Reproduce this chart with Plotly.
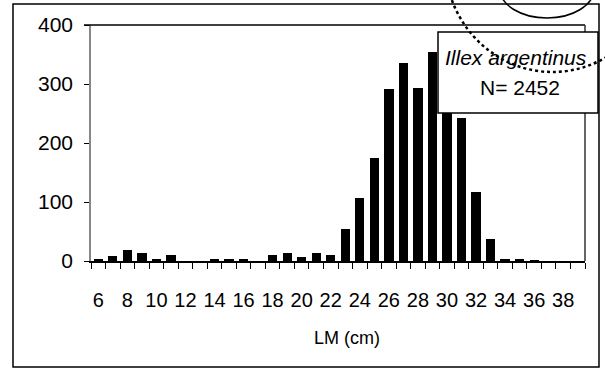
import plotly.graph_objects as go

# Length-frequency of Illex argentinus, mantle length classes (cm)
lm_cm = list(range(6, 40))
counts = [4, 9, 19, 14, 4, 10, 0, 0, 3, 4, 4, 0, 11, 13, 7, 13, 10, 55,
          106, 174, 291, 335, 294, 355, 312, 242, 117, 37, 4, 4, 1, 0, 0, 0]
x_tick_labels = list(range(6, 39, 2))
y_tick_values = [0, 100, 200, 300, 400]
species = "Illex argentinus"
n_total = 2452

W, H = 605, 369
L, R, T, B = 91, 20, 25, 108
PW, PH = W - L - R, H - T - B


def px(x):
    return (x - L) / PW


def py(y):
    return (H - B - y) / PH


FONT = "Liberation Sans, Arial, sans-serif"

fig = go.Figure(
    go.Bar(x=lm_cm, y=counts, width=0.64, marker=dict(color="black", line=dict(width=0)))
)

fig.update_layout(
    width=W, height=H,
    margin=dict(l=L, r=R, t=T, b=B),
    paper_bgcolor="white", plot_bgcolor="white",
    showlegend=False,
    font=dict(family=FONT, color="black"),
    bargap=0,
)

fig.update_xaxes(
    range=[5.5, 39.5],
    tickmode="array", tickvals=x_tick_labels,
    ticktext=[str(v) for v in x_tick_labels],
    ticks="", tickfont=dict(size=20, family=FONT),
    ticklabelstandoff=20,
    minor=dict(tickmode="linear", tick0=5.5, dtick=1, ticks="outside",
               ticklen=6, tickwidth=1.2, tickcolor="black"),
    showline=True, linecolor="black", linewidth=1.5,
    showgrid=False, zeroline=False, fixedrange=True,
)
fig.update_yaxes(
    range=[0, 400],
    tickmode="array", tickvals=y_tick_values,
    ticks="outside", ticklen=5, tickwidth=1.2, tickcolor="black",
    tickfont=dict(size=21, family=FONT),
    ticklabelstandoff=7,
    showline=True, linecolor="#888888", linewidth=1.5,
    showgrid=False, zeroline=False, fixedrange=True,
)

shapes = [
    # outer frame of the chart
    dict(type="rect", xref="paper", yref="paper",
         x0=px(13), x1=px(599), y0=py(367), y1=py(4),
         line=dict(color="black", width=1.5), layer="below"),
    # plot area top and right edges
    dict(type="line", xref="paper", yref="paper",
         x0=px(84), x1=px(585), y0=1, y1=1,
         line=dict(color="black", width=1.5)),
    dict(type="line", xref="paper", yref="paper",
         x0=1, x1=1, y0=0, y1=1,
         line=dict(color="#333333", width=1.5)),
    # species box
    dict(type="rect", xref="paper", yref="paper",
         x0=px(438), x1=px(598), y0=py(113), y1=py(32),
         fillcolor="white", line=dict(color="black", width=1.5), layer="above"),
    # stamp imprint in the corner
    dict(type="circle", xref="paper", yref="paper",
         x0=px(500), x1=px(594), y0=py(18), y1=py(-40),
         line=dict(color="black", width=1.5), layer="above"),
    dict(type="circle", xref="paper", yref="paper",
         x0=px(445), x1=px(660), y0=py(72), y1=py(-150),
         line=dict(color="black", width=2.5, dash="dot"), layer="above"),
]
fig.update_layout(shapes=shapes)

annotations = [
    dict(text=f"<i>{species}</i>", xref="paper", yref="paper",
         x=px(516), y=py(58), xanchor="center", yanchor="middle",
         showarrow=False, font=dict(size=21, family=FONT)),
    dict(text=f"N= {n_total}", xref="paper", yref="paper",
         x=px(520), y=py(87), xanchor="center", yanchor="middle",
         showarrow=False, font=dict(size=21, family=FONT)),
    dict(text="LM (cm)", xref="paper", yref="paper",
         x=px(347), y=py(338), xanchor="center", yanchor="middle",
         showarrow=False, font=dict(size=18, family=FONT)),
]
fig.update_layout(annotations=annotations)

fig.write_html("out.html")
